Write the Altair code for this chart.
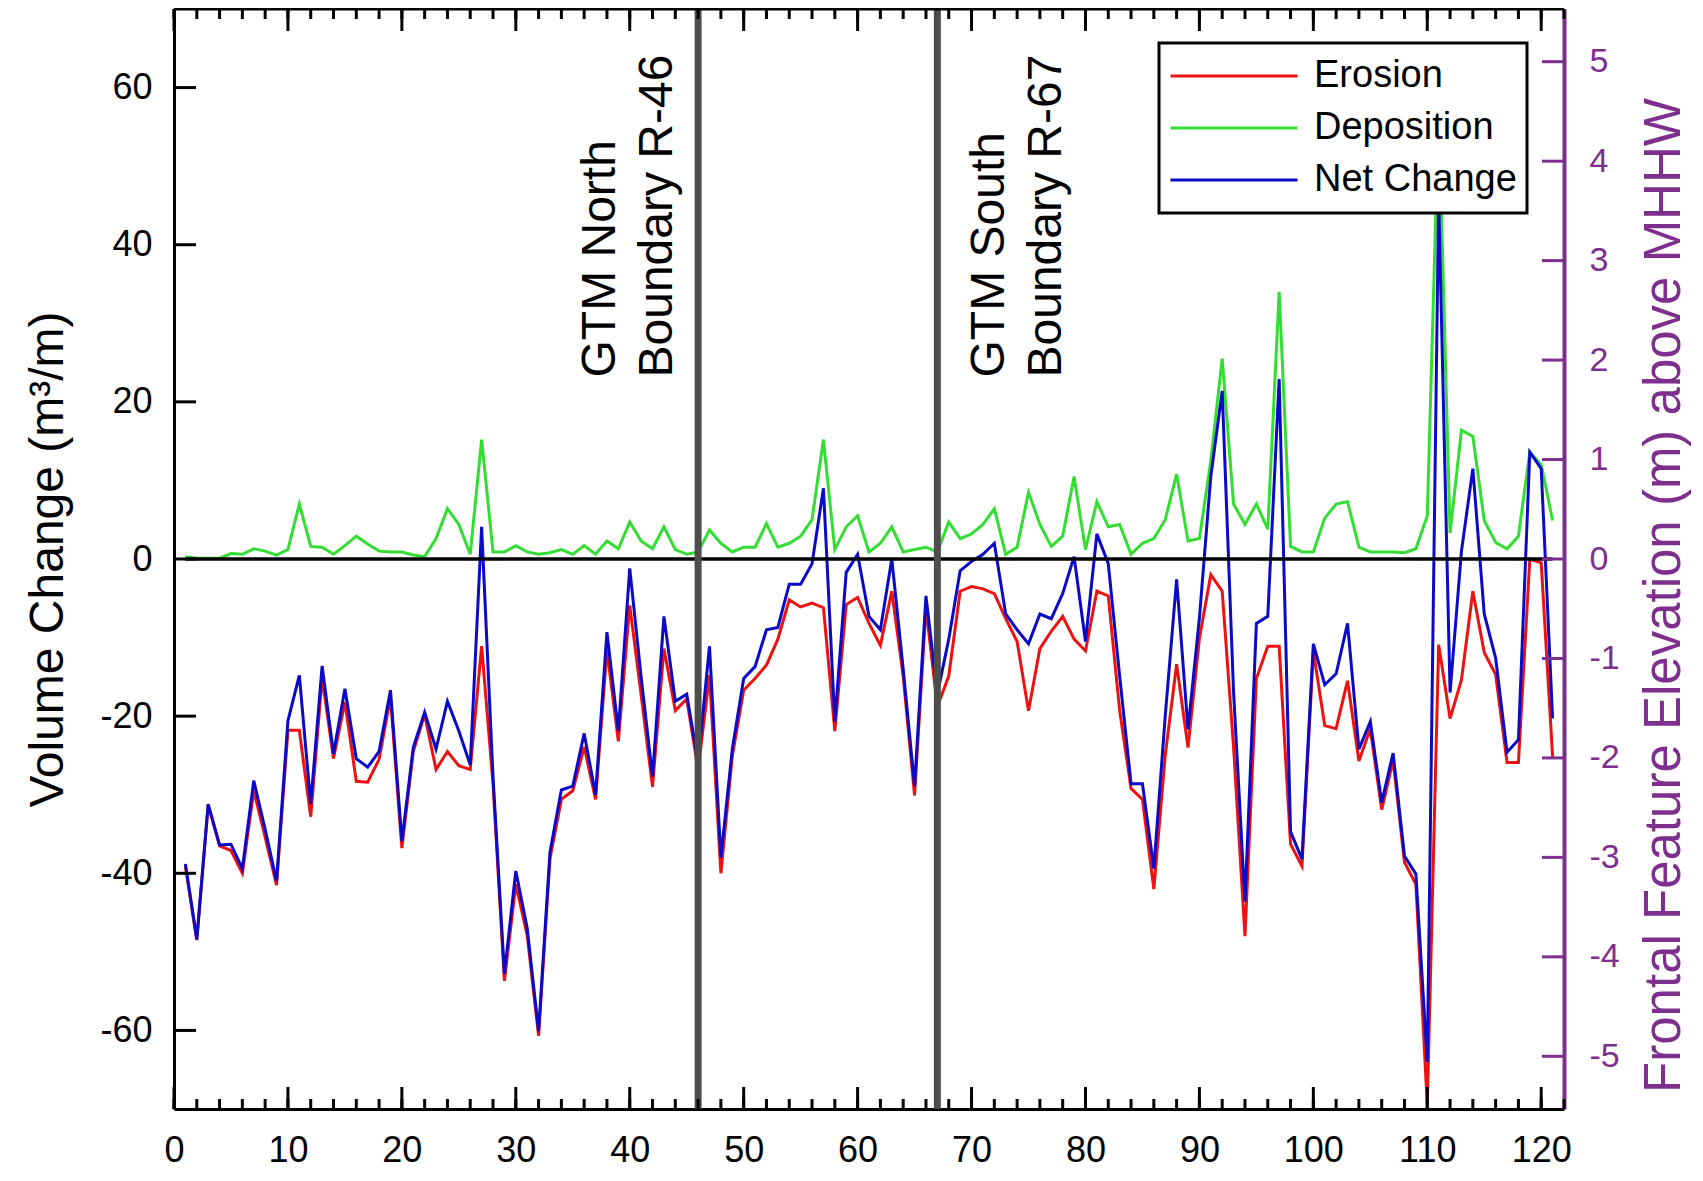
import altair as alt
import pandas as pd

# ---------------- data ----------------
stations = list(range(1, 122))

erosion = [
    -39.1, -48.5, -31.3, -36.5, -37.1, -40.0, -29.5, -35.4, -41.5, -21.8,
    -21.8, -32.8, -15.1, -25.4, -18.2, -28.3, -28.4, -25.5, -17.6, -36.8,
    -24.5, -19.8, -26.8, -24.5, -26.3, -26.8, -11.1, -28.6, -53.7, -41.4,
    -47.9, -60.7, -38.1, -30.6, -29.5, -23.9, -30.6, -11.6, -23.2, -5.9,
    -17.3, -29.0, -11.4, -19.3, -17.8, -26.8, -14.8, -40.0, -25.1, -16.7,
    -15.2, -13.5, -10.2, -5.2, -6.1, -5.6, -6.2, -21.9, -5.8, -4.9,
    -8.2, -11.0, -4.1, -14.9, -30.1, -6.2, -18.8, -14.9, -4.1, -3.5,
    -3.8, -4.4, -7.6, -10.5, -19.3, -11.4, -9.2, -7.3, -10.2, -11.7,
    -4.1, -4.7, -19.3, -29.2, -30.6, -42.0, -25.0, -13.4, -24.0, -10.1,
    -2.0, -4.1, -24.0, -48.0, -15.2, -11.1, -11.1, -36.3, -39.1, -11.7,
    -21.2, -21.6, -15.5, -25.7, -21.6, -31.9, -25.6, -38.6, -41.4, -69.5,
    -10.9, -20.3, -15.4, -4.1, -11.9, -14.7, -25.9, -25.9, 0.0, -0.5,
    -25.2,
]

deposition = [
    0.3, 0.1, 0.1, 0.1, 0.7, 0.6, 1.3, 1.0, 0.5, 1.2,
    7.0, 1.6, 1.5, 0.6, 1.7, 2.9, 1.9, 1.0, 0.9, 0.9,
    0.5, 0.3, 2.6, 6.4, 4.4, 0.6, 15.2, 0.9, 0.9, 1.7,
    0.9, 0.6, 0.8, 1.2, 0.6, 1.7, 0.6, 2.3, 1.3, 4.7,
    2.3, 1.3, 4.1, 1.2, 0.6, 0.9, 3.7, 2.0, 0.9, 1.5,
    1.5, 4.5, 1.5, 2.0, 2.9, 5.0, 15.2, 1.2, 4.1, 5.5,
    0.9, 2.0, 4.1, 0.9, 1.2, 1.5, 0.9, 4.7, 2.6, 3.2,
    4.4, 6.4, 0.6, 1.5, 8.5, 4.4, 1.6, 2.9, 10.5, 1.2,
    7.3, 4.1, 4.4, 0.6, 2.0, 2.6, 5.0, 10.8, 2.3, 2.6,
    12.5, 25.5, 7.0, 4.4, 7.0, 3.8, 34.0, 1.6, 0.9, 0.9,
    5.2, 7.0, 7.3, 1.5, 0.9, 0.9, 0.9, 0.8, 1.3, 5.5,
    57.0, 3.3, 16.4, 15.6, 4.9, 2.1, 1.3, 2.9, 13.6, 12.0,
    4.9,
]

net_change = [
    -38.8, -48.4, -31.2, -36.4, -36.3, -39.4, -28.2, -34.4, -41.0, -20.6,
    -14.8, -31.2, -13.6, -24.8, -16.5, -25.4, -26.5, -24.5, -16.7, -35.9,
    -24.0, -19.5, -24.2, -18.1, -21.9, -26.2, 4.1, -27.7, -52.8, -39.7,
    -47.0, -60.1, -37.3, -29.4, -28.9, -22.2, -30.0, -9.3, -21.9, -1.2,
    -15.0, -27.7, -7.3, -18.1, -17.2, -25.9, -11.1, -38.0, -24.2, -15.2,
    -13.7, -9.0, -8.7, -3.2, -3.2, -0.6, 9.0, -20.7, -1.7, 0.6,
    -7.3, -9.0, 0.0, -14.0, -28.9, -4.7, -17.2, -10.2, -1.5, -0.3,
    0.6, 2.0, -7.0, -9.0, -10.8, -7.0, -7.6, -4.4, 0.3, -10.5,
    3.2, -0.6, -14.9, -28.6, -28.6, -39.4, -20.0, -2.6, -21.7, -7.5,
    10.5, 21.4, -17.0, -43.6, -8.2, -7.3, 22.9, -34.7, -38.2, -10.8,
    -16.0, -14.6, -8.2, -24.2, -20.7, -31.0, -24.7, -37.8, -40.1, -64.0,
    46.0, -17.0, 1.0, 11.5, -7.0, -12.6, -24.6, -23.0, 13.6, 11.5,
    -20.3,
]

series_names = ["Erosion", "Deposition", "Net Change"]
series_colors = ["#EE1111", "#33DD33", "#0A0AC8"]

boundary_x = [46, 67]
ann_x = [35.4, 69.55]
ann_y = [23.1, 23.1]
ann_text = ["GTM North\nBoundary R-46", "GTM South\nBoundary R-67"]

zero_x = [1]
zero_x2 = [121]
zero_y = [0]

x_labels = list(range(0, 121, 10))
x_minor = list(range(0, 123, 2))
y_left_ticks = list(range(-60, 61, 20))
y_right_ticks = list(range(-5, 6))

# ---------------- layout / style ----------------
W, H = 1390, 1100
FONT = "Liberation Sans"
PURPLE = "#7E2F8E"
XD = [0, 122]
YD = [-70, 70]
RD = [-5.53, 5.53]
MAJ, MIN, TW = 22, 10, 3

rows = []
for name, vals in zip(series_names, [erosion, deposition, net_change]):
    for s, v in zip(stations, vals):
        rows.append({"station": s, "value": v, "series": name})
df = pd.DataFrame(rows)

xscale = alt.Scale(domain=XD, nice=False, zero=False)
yscale = alt.Scale(domain=YD, nice=False, zero=False)
rscale = alt.Scale(domain=RD, nice=False, zero=False)

lines = alt.Chart(df).mark_line(strokeWidth=3).encode(
    x=alt.X("station:Q", scale=xscale,
            axis=alt.Axis(orient="bottom", values=x_labels, ticks=False, tickSize=0,
                          labelPadding=24, labelFontSize=36, labelFont=FONT,
                          labelColor="black", labelFlush=False, labelOverlap=False,
                          labelExpr="'' + datum.value",
                          domainColor="black", domainWidth=3, grid=False, title=None)),
    y=alt.Y("value:Q", scale=yscale,
            axis=alt.Axis(orient="left", values=y_left_ticks, ticks=False, tickSize=0,
                          labelPadding=22, labelFontSize=36, labelFont=FONT,
                          labelColor="black", labelOverlap=False,
                          labelExpr="'' + datum.value",
                          domainColor="black", domainWidth=3, grid=False,
                          title="Volume Change (m³/m)", titleFont=FONT,
                          titleFontSize=48, titleFontWeight="normal",
                          titleColor="black", titleAngle=270,
                          titleBaseline="bottom", titleX=-102)),
    color=alt.Color("series:N",
                    scale=alt.Scale(domain=series_names, range=series_colors),
                    legend=alt.Legend(orient="none", legendX=985, legendY=34,
                                      title=None, symbolType="stroke",
                                      symbolSize=16129, symbolStrokeWidth=3,
                                      clipHeight=46, rowPadding=6, padding=10,
                                      labelOffset=15, labelFontSize=38,
                                      labelLimit=0,
                                      labelFont=FONT, labelColor="black",
                                      fillColor="white", strokeColor="black")),
    opacity=alt.Opacity("series:N",
                        scale=alt.Scale(domain=series_names, range=[1, 1, 0.8]),
                        legend=None),
)

zero = alt.Chart(pd.DataFrame({"x": zero_x, "x2": zero_x2, "y": zero_y})).mark_rule(
    color="black", strokeWidth=3.5
).encode(
    x=alt.X("x:Q", scale=xscale, axis=None),
    x2="x2:Q",
    y=alt.Y("y:Q", scale=yscale, axis=None),
)

bounds = alt.Chart(pd.DataFrame({"x": boundary_x})).mark_rule(
    color="#4d4d4d", strokeWidth=7
).encode(
    x=alt.X("x:Q", scale=xscale, axis=None),
)

ann = alt.Chart(pd.DataFrame({"x": ann_x, "y": ann_y, "text": ann_text})).mark_text(
    angle=270, align="left", baseline="top", fontSize=48, font=FONT,
    lineHeight=57, lineBreak="\n", color="black"
).encode(
    x=alt.X("x:Q", scale=xscale, axis=None),
    y=alt.Y("y:Q", scale=yscale, axis=None),
    text="text:N",
)


def x_tick_layer(values, y0, y1):
    return alt.Chart(pd.DataFrame({"t": values})).mark_rule(
        color="black", strokeWidth=TW
    ).encode(
        x=alt.X("t:Q", scale=xscale, axis=None),
        y=alt.value(y0), y2=alt.value(y1),
    )


def y_tick_layer(values, scale, x0, x1, color):
    return alt.Chart(pd.DataFrame({"t": values})).mark_rule(
        color=color, strokeWidth=TW
    ).encode(
        y=alt.Y("t:Q", scale=scale, axis=None),
        x=alt.value(x0), x2=alt.value(x1),
    )


ticks = [
    x_tick_layer(x_minor, H, H - MIN),
    x_tick_layer(x_labels, H, H - MAJ),
    x_tick_layer(x_minor, 0, MIN),
    x_tick_layer(x_labels, 0, MAJ),
    y_tick_layer(y_left_ticks, yscale, 0, MAJ, "black"),
    y_tick_layer(y_right_ticks, rscale, W, W - MAJ, PURPLE),
]

top_border = alt.Chart(pd.DataFrame({"k": [0]})).mark_rule(
    color="black", strokeWidth=3
).encode(x=alt.value(0), x2=alt.value(W), y=alt.value(0))

right_lab = alt.Chart(pd.DataFrame({"v": y_right_ticks})).mark_point(opacity=0).encode(
    y=alt.Y("v:Q", scale=rscale,
            axis=alt.Axis(orient="right", values=y_right_ticks, ticks=False, tickSize=0,
                          labelPadding=25, labelFontSize=34, labelFont=FONT,
                          labelColor=PURPLE, labelOverlap=False,
                          labelExpr="'' + datum.value",
                          domainColor=PURPLE, domainWidth=4, grid=False,
                          title="Frontal Feature Elevation (m) above MHHW",
                          titleFont=FONT, titleFontSize=51, titleFontWeight="normal",
                          titleColor=PURPLE, titleAngle=270, titleBaseline="bottom",
                          titleX=126, titleY=586)),
)

chart = alt.layer(lines, zero, bounds, ann, *ticks, top_border, right_lab).resolve_scale(
    y="independent"
).resolve_axis(
    x="independent", y="independent"
).properties(
    width=W, height=H,
    autosize=alt.AutoSizeParams(type="none"),
    padding={"left": 166, "top": 1, "right": 131, "bottom": 63},
    background="white",
).configure_view(stroke=None).configure_legend(strokeWidth=3)

chart.save("out.html", embed_options={"renderer": "svg", "actions": False})
